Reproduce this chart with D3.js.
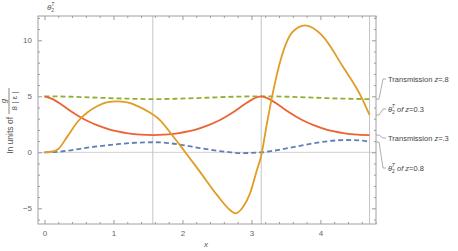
<!DOCTYPE html>
<html>
<head>
<meta charset="utf-8">
<script src="https://cdn.jsdelivr.net/npm/d3@7"></script>
<style>
  body { margin: 0; background: #fff; }
  svg { font-family: "Liberation Sans", Arial, sans-serif; }
  .tick text { fill: #666; font-size: 8px; }
  .tick line { stroke: #999; }
</style>
</head>
<body>
<svg id="chart" width="458" height="251"></svg>
<script>
// values
var greenX = [0, 0.4, 0.8, 1.2, 1.571, 1.94, 2.34, 2.74, 3.142, 3.54, 3.94, 4.34, 4.712]
var greenY = [5.0, 4.96, 4.87, 4.79, 4.75, 4.79, 4.87, 4.96, 5.0, 4.96, 4.87, 4.79, 4.75]

var redX = [0, 0.12, 0.26, 0.4, 0.51, 0.64, 0.8, 0.96, 1.19, 1.4, 1.571,
            1.74, 1.95, 2.18, 2.34, 2.5, 2.63, 2.74, 2.88, 3.02, 3.142,
            3.26, 3.40, 3.54, 3.65, 3.78, 3.94, 4.10, 4.33, 4.54, 4.712]
var redY = [5.0, 4.75, 4.2, 3.6, 3.18, 2.75, 2.33, 2.0, 1.72, 1.58, 1.54,
            1.58, 1.72, 2.0, 2.33, 2.75, 3.18, 3.6, 4.2, 4.75, 5.0,
            4.75, 4.2, 3.6, 3.18, 2.75, 2.33, 2.0, 1.72, 1.58, 1.54]

var blueX = [0, 0.2, 0.38, 0.6, 0.87, 1.09, 1.35, 1.6, 1.8, 2.0, 2.25, 2.5, 2.7, 2.83, 3.0, 3.142,
             3.4, 3.64, 3.9, 4.12, 4.37, 4.61, 4.712]
var blueY = [0, 0.05, 0.18, 0.4, 0.6, 0.75, 0.86, 0.9, 0.82, 0.65, 0.38, 0.14, 0.0, -0.07, -0.05, 0,
             0.22, 0.5, 0.8, 1.0, 1.1, 1.04, 0.92]

var orangeX = [0, 0.1, 0.2, 0.33, 0.48, 0.62, 0.77, 0.9, 1.05, 1.2, 1.35, 1.5, 1.67, 1.85, 2.03,
               2.25, 2.5, 2.69, 2.77, 2.88, 2.98, 3.08, 3.142, 3.22, 3.3, 3.44, 3.59, 3.78,
               4.03, 4.32, 4.61, 4.712]
var orangeY = [0, 0.05, 0.3, 1.4, 2.73, 3.55, 4.13, 4.45, 4.55, 4.45, 4.13, 3.65, 2.9, 1.55, 0.1,
               -1.7, -3.8, -5.15, -5.45, -4.86, -3.66, -1.58, -0.3, 2.4, 5.0, 8.6, 10.7, 11.34,
               10.4, 7.7, 4.73, 3.33]

var xTicks = [0, 1, 2, 3, 4]
var yTicks = [-5, 0, 5, 10]
var gridX = [Math.PI / 2, Math.PI, 3 * Math.PI / 2]

var legendNames = ["Transmission z=.8", "θ of z=0.3", "Transmission z=.3", "θ of z=0.8"]
var legendY = [79, 109, 138, 168]

draw()

function draw() {
    var svg = d3.select("#chart")
    var pl = 38, pr = 376, pt = 16, pb = 224

    var x = d3.scaleLinear().domain([-0.094, 4.806]).range([pl, pr])
    var y = d3.scaleLinear().domain([-6.4, 12.17]).range([pb, pt])

    // grid lines
    svg.append("line")
        .attr("x1", pl).attr("x2", pr)
        .attr("y1", y(0)).attr("y2", y(0))
        .attr("stroke", "#d0d0d0").attr("stroke-width", 1)
    svg.selectAll(".gx")
        .data(gridX)
        .enter()
        .append("line")
            .attr("x1", d => x(d)).attr("x2", d => x(d))
            .attr("y1", pt).attr("y2", pb)
            .attr("stroke", "#c4c4c4").attr("stroke-width", 1)

    // frame ticks
    function minor(a, b, step) {
        var out = []
        for (var v = a; v <= b + 1e-9; v += step) out.push(+v.toFixed(2))
        return out
    }
    var xMinor = minor(0, 4.8, 0.2).filter(d => xTicks.indexOf(d) < 0)
    var yMinor = minor(-6, 12, 1).filter(d => yTicks.indexOf(d) < 0)

    svg.append("g").attr("transform", "translate(0," + pb + ")")
        .call(d3.axisBottom(x).tickValues(xTicks).tickSize(-4).tickPadding(6).tickFormat(d3.format("d")))
    svg.append("g").attr("transform", "translate(0," + pb + ")")
        .call(d3.axisBottom(x).tickValues(xMinor).tickSize(-2).tickFormat(""))
    svg.append("g").attr("transform", "translate(0," + pt + ")")
        .call(d3.axisTop(x).tickValues(xTicks).tickSize(-4).tickFormat(""))
    svg.append("g").attr("transform", "translate(0," + pt + ")")
        .call(d3.axisTop(x).tickValues(xMinor).tickSize(-2).tickFormat(""))

    svg.append("g").attr("transform", "translate(" + pl + ",0)")
        .call(d3.axisLeft(y).tickValues(yTicks).tickSize(-4).tickPadding(6).tickFormat(d => d < 0 ? "\u2212" + (-d) : d))
    svg.append("g").attr("transform", "translate(" + pl + ",0)")
        .call(d3.axisLeft(y).tickValues(yMinor).tickSize(-2).tickFormat(""))
    svg.append("g").attr("transform", "translate(" + pr + ",0)")
        .call(d3.axisRight(y).tickValues(yTicks).tickSize(-4).tickFormat(""))
    svg.append("g").attr("transform", "translate(" + pr + ",0)")
        .call(d3.axisRight(y).tickValues(yMinor).tickSize(-2).tickFormat(""))

    svg.selectAll(".domain").remove()
    svg.append("rect")
        .attr("x", pl).attr("y", pt)
        .attr("width", pr - pl).attr("height", pb - pt)
        .attr("fill", "none").attr("stroke", "#a0a0a0").attr("stroke-width", 1)

    // curves
    var line = d3.line()
        .x(d => x(d[0]))
        .y(d => y(d[1]))
        .curve(d3.curveMonotoneX)

    var series = [
        {xs: greenX, ys: greenY, color: "#8FB032", dash: "5,3"},
        {xs: redX, ys: redY, color: "#EB6235", dash: null},
        {xs: blueX, ys: blueY, color: "#5E81B5", dash: "5,3"},
        {xs: orangeX, ys: orangeY, color: "#E19C24", dash: null}
    ]
    svg.append("clipPath").attr("id", "clip")
        .append("rect").attr("x", pl).attr("y", pt)
        .attr("width", pr - pl).attr("height", pb - pt)

    svg.append("g").attr("clip-path", "url(#clip)")
        .selectAll("path")
        .data(series)
        .enter()
        .append("path")
            .attr("d", s => line(s.xs.map((v, i) => [v, s.ys[i]])))
            .attr("fill", "none")
            .attr("stroke", s => s.color)
            .attr("stroke-width", 1.8)
            .attr("stroke-dasharray", s => s.dash)

    // callouts: green, orange, red, blue ends
    var ends = [greenY[greenY.length - 1], orangeY[orangeY.length - 1], redY[redY.length - 1], blueY[blueY.length - 1]]
    legendNames.forEach(function (name, i) {
        var ye = y(ends[i]), yl = legendY[i]
        svg.append("path")
            .attr("d", "M" + pr + "," + ye + "L" + (pr + 3) + "," + ye + "L" + (pr + 7) + "," + yl + "L" + (pr + 10) + "," + yl)
            .attr("fill", "none").attr("stroke", "#999").attr("stroke-width", 0.8)
        var t = svg.append("text")
            .attr("x", 388).attr("y", yl + 3)
            .attr("font-size", 7.5).attr("fill", "#444")
        if (name.indexOf("θ") == 0) {
            t.append("tspan").attr("font-style", "italic").text("θ")
            t.append("tspan").attr("font-size", 5).attr("dy", 2).text("2")
            t.append("tspan").attr("font-size", 5).attr("dx", -3).attr("dy", -6).attr("font-style", "italic").text("T")
            t.append("tspan").attr("dy", 4).attr("font-style", "italic").text(" of ")
            t.append("tspan").attr("font-style", "italic").text("z")
            t.append("tspan").text(name.slice(name.indexOf("z") + 1))
        } else {
            t.append("tspan").text("Transmission ")
            t.append("tspan").attr("font-style", "italic").text("z")
            t.append("tspan").text(name.slice(name.indexOf("z") + 1))
        }
    })

    // top label
    var tl = svg.append("text").attr("x", 47).attr("y", 10).attr("font-size", 8).attr("fill", "#555")
    tl.append("tspan").attr("font-style", "italic").text("θ")
    tl.append("tspan").attr("font-size", 5).attr("dy", 2).text("2")
    tl.append("tspan").attr("font-size", 5).attr("dx", -3).attr("dy", -6).attr("font-style", "italic").text("T")

    // x label
    svg.append("text").attr("x", 206).attr("y", 247)
        .attr("font-size", 8).attr("font-style", "italic").attr("fill", "#555")
        .attr("text-anchor", "middle").text("x")

    // y label, rotated
    var yg = svg.append("g").attr("transform", "translate(13,114) rotate(-90)")
    yg.append("text").attr("x", -3).attr("y", 0)
        .attr("font-size", 8.5).attr("fill", "#555").attr("text-anchor", "end")
        .text("In units of")
    yg.append("text").attr("x", 13).attr("y", -7)
        .attr("font-size", 8).attr("font-style", "italic").attr("fill", "#555").attr("text-anchor", "middle")
        .text("g")
    yg.append("line").attr("x1", 0).attr("x2", 26).attr("y1", -4).attr("y2", -4)
        .attr("stroke", "#555").attr("stroke-width", 0.7)
    yg.append("text").attr("x", 13).attr("y", 4)
        .attr("font-size", 8).attr("fill", "#555").attr("text-anchor", "middle")
        .text("8 | ε |")
}
</script>
</body>
</html>
